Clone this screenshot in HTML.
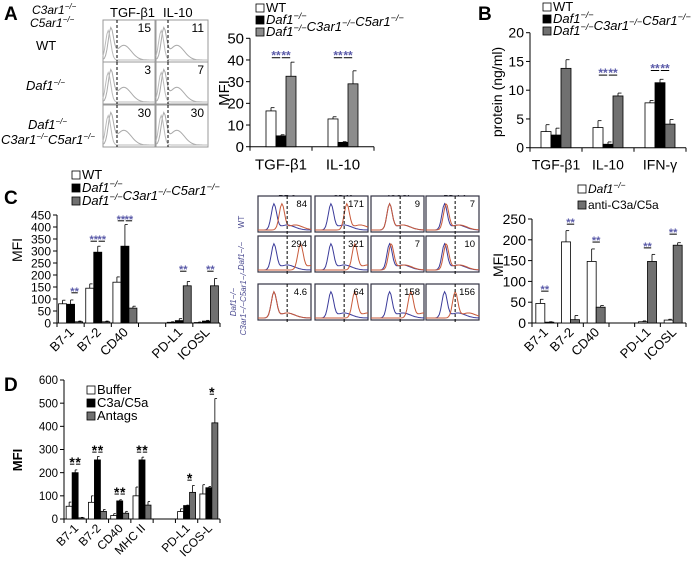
<!DOCTYPE html>
<html><head><meta charset="utf-8"><style>
html,body{margin:0;padding:0;background:#fff;}
svg{display:block;font-family:"Liberation Sans",Arial,sans-serif;}
</style></head><body>
<svg id="fig" width="694" height="568" viewBox="0 0 694 568" xmlns="http://www.w3.org/2000/svg">
<g id="static">
<text x="4" y="20" font-size="19" font-weight="bold">A</text>
<text x="478" y="20" font-size="19" font-weight="bold">B</text>
<text x="4" y="204" font-size="19" font-weight="bold">C</text>
<text x="4" y="391" font-size="19" font-weight="bold">D</text>
<text x="32" y="14" font-size="12" font-style="italic">C3ar1<tspan font-size="8" dy="-5">−/−</tspan></text>
<text x="30" y="27" font-size="12" font-style="italic">C5ar1<tspan font-size="8" dy="-5">−/−</tspan></text>
<text x="110" y="17" font-size="13">TGF-β1</text>
<text x="163" y="17" font-size="13">IL-10</text>
<text x="36" y="50" font-size="13">WT</text>
<text x="26" y="90" font-size="13" font-style="italic">Daf1<tspan font-size="8" dy="-5">−/−</tspan></text>
<text x="28" y="129" font-size="13" font-style="italic">Daf1<tspan font-size="8" dy="-5">−/−</tspan></text>
<text x="1" y="144" font-size="13" font-style="italic">C3ar1<tspan font-size="8" dy="-5">−/−</tspan><tspan dy="5">C5ar1</tspan><tspan font-size="8" dy="-5">−/−</tspan></text>
<text x="287" y="201" font-size="8" font-weight="bold" text-anchor="middle">B7-2</text>
<text x="343" y="201" font-size="8" font-weight="bold" text-anchor="middle">CD40</text>
<text x="400" y="201" font-size="8" font-weight="bold" text-anchor="middle">ICOSL</text>
<text x="455" y="201" font-size="8" font-weight="bold" text-anchor="middle">PD-L1</text>
<text transform="translate(244,222) rotate(-90)" font-size="8" fill="#4a4a90" text-anchor="middle">WT</text>
<text transform="translate(244,256) rotate(-90)" font-size="8" fill="#4a4a90" font-style="italic" text-anchor="middle">Daf1−/−</text>
<text transform="translate(236,302) rotate(-90)" font-size="8" fill="#4a4a90" font-style="italic" text-anchor="middle">Daf1−/−</text>
<text transform="translate(246,302) rotate(-90)" font-size="8" fill="#4a4a90" font-style="italic" text-anchor="middle">C3ar1−/−C5ar1−/−</text>
</g>
<g id="flow"></g>
<g id="charts"></g>
</svg>
<script>
// ---- Panel A bar data ----
const aCategories=['TGF-β1','IL-10'];
const aWT=[16.5,12.8]; const aWTErr=[1.5,1];
const aDaf=[5,2]; const aDafErr=[0.5,0.3];
const aTKO=[32.5,29]; const aTKOErr=[6.5,6];
const aTicks=[0,10,20,30,40,50];
// ---- Panel B ----
const bCategories=['TGF-β1','IL-10','IFN-γ'];
const bWT=[2.8,3.5,7.8]; const bWTErr=[1.2,1.2,0.4];
const bDaf=[2.2,0.6,11.3]; const bDafErr=[1.2,0.4,0.6];
const bTKO=[13.8,9,4.1]; const bTKOErr=[1.5,0.5,0.8];
const bTicks=[0,5,10,15,20];
// ---- Panel C left ----
const cCategories=['B7-1','B7-2','CD40','PD-L1','ICOSL'];
const cWT=[80,145,170,3,2]; const cWTErr=[15,18,22,2,2];
const cDaf=[78,295,320,10,8]; const cDafErr=[18,25,90,8,3];
const cTKO=[5,5,62,155,155]; const cTKOErr=[3,3,8,18,30];
const cTicks=[0,50,100,150,200,250,300,350,400,450];
// ---- Panel C right ----
const crCategories=['B7-1','B7-2','CD40','PD-L1','ICOSL'];
const crDaf=[47,195,148,3,7]; const crDafErr=[10,27,30,2,2];
const crAnti=[2,8,38,148,187]; const crAntiErr=[1,10,4,17,6];
const crTicks=[0,50,100,150,200,250];
// ---- Panel D ----
const dCategories=['B7-1','B7-2','CD40','MHC II','PD-L1','ICOS-L'];
const dBuffer=[55,72,15,100,32,108]; const dBufferErr=[18,28,8,38,12,40];
const dC3a=[200,255,78,255,58,135]; const dC3aErr=[12,15,5,12,2,5];
const dAntag=[5,33,25,60,115,415]; const dAntagErr=[2,8,8,15,30,105];
const dTicks=[0,100,200,300,400,500,600];
// ---- Flow MFI numbers ----
const aFlowNums=[[15,11],[3,7],[30,30]];
const cFlowNums=[[84,171,9,7],[294,321,7,10],[4.6,64,158,156]];

const NS='http://www.w3.org/2000/svg';
const charts=document.getElementById('charts');
const flow=document.getElementById('flow');
function mk(tag,attrs,parent,txt){const e=document.createElementNS(NS,tag);for(const k in attrs)e.setAttribute(k,attrs[k]);if(txt!==undefined)e.textContent=txt;(parent||charts).appendChild(e);return e;}

function chart(o){
  const g=mk('g',{});
  
  
  const vy=v=>o.y0-(v/o.vmax)*(o.y0-o.yTop);
  const gw=(o.x1-o.x0)/o.slots;
  const ns=o.series.length;
  const barX=(ci,si)=>o.x0+gw*o.catSlot[ci]+gw/2-ns*o.bw/2+si*o.bw;
  const ya=mk('line',{x1:o.x0,y1:vy(o.ticks[o.ticks.length-1]),x2:o.x0,y2:o.y0,stroke:'#000','stroke-width':1},g);
  
  o.ticks.forEach(t=>{
    mk('line',{x1:o.x0-4,x2:o.x0,y1:vy(t),y2:vy(t),stroke:'#000'},g);
    const tl=mk('text',{x:o.x0-6,y:vy(t)+o.tf*0.36,'font-size':o.tf,'text-anchor':'end'},g,String(t));
    
  });
  const xa=mk('line',{x1:o.x0,x2:o.x1,y1:o.y0,y2:o.y0,stroke:'#000'},g);
  
  for(let s=0;s<=o.slots;s++){mk('line',{x1:o.x0+gw*s,x2:o.x0+gw*s,y1:o.y0,y2:o.y0+4,stroke:'#000'},g);}
  o.cats.forEach((c,ci)=>{
    o.series.forEach((s,si)=>{
      const x=barX(ci,si),v=s.vals[ci],e=s.errs[ci];
      const r=mk('rect',{x:x,y:vy(v),width:o.bw,height:o.y0-vy(v),fill:s.fill,stroke:'#000','stroke-width':0.8},g);
      
      
      const cx=x+o.bw/2;
      mk('line',{x1:cx,x2:cx,y1:vy(v),y2:vy(v+e),stroke:'#000','stroke-width':0.8},g);
      mk('line',{x1:cx,x2:cx+o.bw*0.35,y1:vy(v+e),y2:vy(v+e),stroke:'#000','stroke-width':0.8},g);
    });
    const cx=o.x0+gw*o.catSlot[ci]+gw/2;
    let t;
    if(o.rot){t=mk('text',{transform:`translate(${cx+4},${o.y0+10}) rotate(-45)`,'font-size':o.cf,'text-anchor':'end'},g,c);}
    else{t=mk('text',{x:cx,y:o.y0+o.cf+8,'font-size':o.cf,'text-anchor':'middle'},g,c);}
    
  });
  (o.sig||[]).forEach(s=>{
    const xa=barX(s.c,s.a)+o.bw*0.5+0.8, xb=barX(s.c,s.b)+o.bw*0.5-0.8, yy=vy(s.v);
    const st=mk('text',{x:(xa+xb)/2,y:yy+(o.sigDy||0),'font-size':o.sf||12,'text-anchor':'middle',fill:o.sigColor||'#000','font-weight':'bold'},g,s.t);
    
    mk('line',{x1:xa,x2:xb,y1:yy+1,y2:yy+1,stroke:'#000','stroke-width':1},g);
  });
  const yt=mk('text',{transform:`translate(${o.ytx},${o.yty}) rotate(-90)`,'font-size':o.ytf,'text-anchor':'middle','font-weight':o.ytb?'bold':'normal'},g,o.yTitle);
  
  (o.legend||[]).forEach((l,i)=>{
    const y=o.ly+i*o.lsp;
    mk('rect',{x:o.lx,y:y-o.lsz+1,width:o.lsz,height:o.lsz,fill:l.fill,stroke:'#000','stroke-width':0.8},g);
    const lt=mk('text',{x:o.lx+o.lsz+2,y:y+1,'font-size':o.lf,'font-style':l.it?'italic':'normal'},g);
    lt.innerHTML=l.html;
    
  });
}
const sup='<tspan font-size="70%" dy="-5">−/−</tspan><tspan dy="5"></tspan>';
const tko='Daf1'+sup+'C3ar1'+sup+'C5ar1'+sup;
const STAR='#5a5aa8';

chart({name:'panel-a-chart',x0:250,x1:374,y0:146.7,yTop:38.3,vmax:50,slots:2,catSlot:[0,1],bw:10,cats:aCategories,
 series:[{key:'wt',vals:aWT,errs:aWTErr,fill:'#fff'},{key:'daf1',vals:aDaf,errs:aDafErr,fill:'#000'},{key:'tko',vals:aTKO,errs:aTKOErr,fill:'#8c8c8c'}],
 ticks:aTicks,tf:15,cf:15,yTitle:'MFI',ytx:229,yty:93,ytf:15,
 sig:[{c:0,a:0,b:1,v:41.5,t:'**'},{c:0,a:1,b:2,v:41.5,t:'**'},{c:1,a:0,b:1,v:41.5,t:'**'},{c:1,a:1,b:2,v:41.5,t:'**'}],sigColor:STAR,sf:12,sigDy:3,
 legend:[{fill:'#fff',html:'WT'},{fill:'#000',html:'Daf1'+sup,it:1},{fill:'#8c8c8c',html:tko,it:1}],lx:256,ly:11,lsp:12,lsz:8,lf:13});

chart({name:'panel-b-chart',x0:530,x1:686,y0:147.7,yTop:32.7,vmax:20,slots:3,catSlot:[0,1,2],bw:10,cats:bCategories,
 series:[{key:'wt',vals:bWT,errs:bWTErr,fill:'#fff'},{key:'daf1',vals:bDaf,errs:bDafErr,fill:'#000'},{key:'tko',vals:bTKO,errs:bTKOErr,fill:'#707070'}],
 ticks:bTicks,tf:14,cf:14,yTitle:'protein (ng/ml)',ytx:502,yty:92,ytf:14,
 sig:[{c:1,a:0,b:1,v:12.8,t:'**'},{c:1,a:1,b:2,v:12.8,t:'**'},{c:2,a:0,b:1,v:13.6,t:'**'},{c:2,a:1,b:2,v:13.6,t:'**'}],sigColor:STAR,sf:12,sigDy:3,
 legend:[{fill:'#fff',html:'WT'},{fill:'#000',html:'Daf1'+sup,it:1},{fill:'#707070',html:tko,it:1}],lx:543,ly:10,lsp:12,lsz:8,lf:13});

chart({name:'panel-c-chart',x0:57,x1:220,y0:323,yTop:215,vmax:450,slots:6,catSlot:[0,1,2,4,5],bw:8,cats:cCategories,
 series:[{key:'wt',vals:cWT,errs:cWTErr,fill:'#fff'},{key:'daf1',vals:cDaf,errs:cDafErr,fill:'#000'},{key:'tko',vals:cTKO,errs:cTKOErr,fill:'#707070'}],
 ticks:cTicks,tf:12,cf:13,rot:1,yTitle:'MFI',ytx:22,yty:250,ytf:14,
 sig:[{c:0,a:1,b:2,v:130,t:'**'},{c:1,a:0,b:1,v:345,t:'**'},{c:1,a:1,b:2,v:345,t:'**'},{c:2,a:0,b:1,v:430,t:'**'},{c:2,a:1,b:2,v:430,t:'**'},{c:3,a:1,b:2,v:220,t:'**'},{c:4,a:1,b:2,v:220,t:'**'}],sigColor:STAR,sf:11,sigDy:3,
 legend:[{fill:'#fff',html:'WT'},{fill:'#000',html:'Daf1'+sup,it:1},{fill:'#707070',html:tko,it:1}],lx:72,ly:178,lsp:13,lsz:8,lf:13});

chart({name:'panel-c-right-chart',x0:532,x1:686,y0:323,yTop:219,vmax:250,slots:6,catSlot:[0,1,2,4,5],bw:9,cats:crCategories,
 series:[{key:'daf1',vals:crDaf,errs:crDafErr,fill:'#fff'},{key:'anti',vals:crAnti,errs:crAntiErr,fill:'#707070'}],
 ticks:crTicks,tf:14,cf:13,rot:1,yTitle:'MFI',ytx:503,yty:265,ytf:14,
 sig:[{c:0,a:0,b:1,v:79,t:'**'},{c:1,a:0,b:1,v:240,t:'**'},{c:2,a:0,b:1,v:197,t:'**'},{c:3,a:0,b:1,v:183,t:'**'},{c:4,a:0,b:1,v:216,t:'**'}],sigColor:STAR,sf:11,sigDy:3,
 legend:[{fill:'#fff',html:'Daf1'+sup,it:1},{fill:'#707070',html:'anti-C3a/C5a'}],lx:578,ly:192,lsp:16,lsz:8,lf:12});

chart({name:'panel-d-chart',x0:64,x1:220,y0:519,yTop:380,vmax:600,slots:7,catSlot:[0,1,2,3,5,6],bw:6,cats:dCategories,
 series:[{key:'buffer',vals:dBuffer,errs:dBufferErr,fill:'#fff'},{key:'c3a',vals:dC3a,errs:dC3aErr,fill:'#000'},{key:'antag',vals:dAntag,errs:dAntagErr,fill:'#707070'}],
 ticks:dTicks,tf:11.5,cf:12,rot:1,yTitle:'MFI',ytx:22,yty:460,ytf:13,ytb:1,
 sig:[{c:0,a:0,b:1,v:241,t:'*'},{c:0,a:1,b:2,v:241,t:'*'},{c:1,a:0,b:1,v:293,t:'*'},{c:1,a:1,b:2,v:293,t:'*'},{c:2,a:0,b:1,v:112,t:'*'},{c:2,a:1,b:2,v:112,t:'*'},{c:3,a:0,b:1,v:293,t:'*'},{c:3,a:1,b:2,v:293,t:'*'},{c:4,a:1,b:2,v:172,t:'*'},{c:5,a:1,b:2,v:543,t:'*'}],sigColor:'#000',sf:14,sigDy:4,
 legend:[{fill:'#fff',html:'Buffer'},{fill:'#000',html:'C3a/C5a'},{fill:'#707070',html:'Antags'}],lx:87,ly:393,lsp:13,lsz:8,lf:13});

function hist(x,y,w,h,peak,color,tail){
  let d='';
  for(let i=0;i<=40;i++){
    const f=i/40;
    const v=Math.exp(-Math.pow((f-peak)/0.07,2))+tail*Math.exp(-Math.pow((f-peak-0.25)/0.2,2));
    d+=(i?'L':'M')+(x+f*w).toFixed(1)+','+(y+h-2-v*(h*0.7)).toFixed(1);
  }
  mk('path',{d:d,fill:'none',stroke:color,'stroke-width':1},flow);
}
const aCols=[103,156],aRows=[20,62,105],aw=52,ah=42;
aFlowNums.forEach((row,ri)=>row.forEach((n,ci)=>{
  const x=aCols[ci],y=aRows[ri];
  const b=mk('rect',{x:x,y:y,width:aw,height:ah,fill:'#fff',stroke:'#999','stroke-width':1},flow);
  
  hist(x,y,aw,ah,0.15,'#aaa',0.5);hist(x,y,aw,ah,0.1,'#bbb',0);
  mk('line',{x1:x+14+ci*-2,x2:x+14+ci*-2,y1:y,y2:y+ah,stroke:'#000','stroke-dasharray':'3,2'},flow);
  mk('text',{x:x+aw-4,y:y+12,'font-size':12,'text-anchor':'end'},flow,String(n));
}));
const cCols=[258,315,371,426],cRows=[196,236,284],cw=53,ch=36;
const bluePk=[[0.3,0.3,0.35,0.35],[0.3,0.3,0.35,0.35],[0.3,0.3,0.35,0.35]];
const redPk=[[0.45,0.6,0.35,0.38],[0.8,0.75,0.38,0.38],[0.3,0.75,0.75,0.55]];
cFlowNums.forEach((row,ri)=>row.forEach((n,ci)=>{
  const x=cCols[ci],y=cRows[ri];
  const b=mk('rect',{x:x,y:y,width:cw,height:ch,fill:'#fff',stroke:'#334','stroke-width':1.2},flow);
  
  hist(x,y,cw,ch,bluePk[ri][ci],'#3b3b9a',0.2);hist(x,y,cw,ch,redPk[ri][ci],'#c85a3a',0.2);
  mk('line',{x1:x+cw*0.55,x2:x+cw*0.55,y1:y,y2:y+ch+4,stroke:'#000','stroke-dasharray':'3,2'},flow);
  mk('text',{x:x+cw-4,y:y+11,'font-size':9.5,'text-anchor':'end'},flow,String(n));
}));
</script>
</body></html>
